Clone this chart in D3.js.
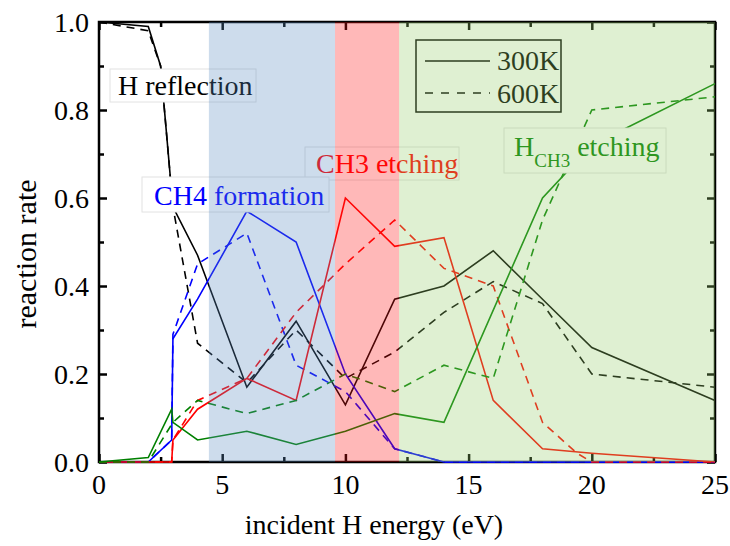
<!DOCTYPE html>
<html>
<head>
<meta charset="utf-8">
<script src="https://cdn.jsdelivr.net/npm/d3@7"></script>
<style>
  body { margin: 0; background: #fff; }
  text { font-family: "Liberation Serif", "Times New Roman", serif; }
</style>
</head>
<body>
<svg id="chartSvg" width="730" height="546"></svg>
<script>
// series as [energy, rate] pairs
const hRefl300 = [[0,1.0],[2,0.99],[2.5,0.9],[3,0.58],[4,0.47],[6,0.17],[8,0.32],[10,0.13],[12,0.37],[14,0.40],[16,0.48],[18,0.37],[20,0.26],[25,0.14]];
const hRefl600 = [[0,1.0],[2,0.98],[2.5,0.9],[3,0.58],[4,0.27],[6,0.18],[8,0.30],[10,0.19],[12,0.25],[14,0.34],[16,0.41],[18,0.36],[20,0.20],[25,0.17]];
const ch4300 = [[0,0],[2,0],[2.95,0.05],[3,0.28],[4,0.37],[6,0.57],[8,0.50],[10,0.20],[12,0.03],[14,0],[25,0]];
const ch4600 = [[0,0],[2,0],[2.95,0.05],[3,0.29],[4,0.45],[6,0.52],[8,0.22],[10,0.16],[12,0.03],[14,0],[25,0]];
const ch3300 = [[0,0],[2.95,0],[3,0.05],[4,0.12],[6,0.19],[8,0.14],[10,0.60],[12,0.49],[14,0.51],[16,0.14],[18,0.03],[20,0.02],[25,0]];
const ch3600 = [[0,0],[2.95,0],[3,0.05],[4,0.14],[6,0.19],[8,0.34],[10,0.45],[12,0.55],[14,0.44],[16,0.40],[18,0.09],[19.4,0.02],[20,0],[25,0]];
const hch3300 = [[0,0],[2,0.01],[2.95,0.12],[3,0.09],[4,0.05],[6,0.07],[8,0.04],[10,0.07],[12,0.11],[14,0.09],[18,0.60],[20,0.72],[25,0.86]];
const hch3600 = [[0,0],[2,0],[3,0.09],[4,0.14],[6,0.11],[8,0.14],[10,0.20],[12,0.16],[14,0.22],[16,0.19],[18,0.55],[20,0.80],[25,0.83]];

// shaded energy windows
const regions = [
    { x0: 4.46, x1: 9.58, color: "rgb(88,138,192)" },
    { x0: 9.58, x1: 12.18, color: "rgb(255,21,21)" },
    { x0: 12.18, x1: 25, color: "rgb(148,205,105)" }
];

const xTicks = [0, 5, 10, 15, 20, 25];
const yTicks = [0, 0.2, 0.4, 0.6, 0.8, 1.0];

const svg = d3.select("#chartSvg");
const plotL = 99, plotR = 715, plotT = 22, plotB = 462;

const x = d3.scaleLinear().domain([0, 25]).range([plotL, plotR]);
const y = d3.scaleLinear().domain([0, 1]).range([plotB, plotT]);

const line = d3.line().x(d => x(d[0])).y(d => y(d[1]));

// frame and inward ticks, mirrored on top and right
svg.append("rect").attr("x", plotL).attr("y", plotT).attr("width", plotR - plotL).attr("height", plotB - plotT)
    .attr("fill", "none").attr("stroke", "#000").attr("stroke-width", 2.5);

const tickW = 2.5;
function xAxis(sel, sign) {
    sel.call(d3.axisBottom(x).tickValues(d3.range(0, 25.01, 2.5)).tickSize(0).tickFormat(""));
    sel.select(".domain").remove();
    sel.selectAll(".tick line")
        .attr("y2", d => sign * (d % 5 === 0 ? 8 : 5))
        .attr("stroke", "#000").attr("stroke-width", tickW);
}
function yAxis(sel, sign) {
    sel.call(d3.axisLeft(y).tickValues(d3.range(0, 1.001, 0.1)).tickSize(0).tickFormat(""));
    sel.select(".domain").remove();
    sel.selectAll(".tick line")
        .attr("x2", (d, i) => sign * (i % 2 === 0 ? 8 : 5))
        .attr("stroke", "#000").attr("stroke-width", tickW);
}
svg.append("g").attr("transform", `translate(0,${plotB})`).call(xAxis, -1);
svg.append("g").attr("transform", `translate(0,${plotT})`).call(xAxis, 1);
svg.append("g").attr("transform", `translate(${plotL},0)`).call(yAxis, 1);
svg.append("g").attr("transform", `translate(${plotR},0)`).call(yAxis, -1);

const series = [
    { data: hRefl300, color: "#000", dash: null },
    { data: hRefl600, color: "#000", dash: "8,6" },
    { data: ch4300, color: "#0000ff", dash: null },
    { data: ch4600, color: "#0000ff", dash: "8,6" },
    { data: ch3300, color: "#ff0000", dash: null },
    { data: ch3600, color: "#ff0000", dash: "8,6" },
    { data: hch3300, color: "#008000", dash: null },
    { data: hch3600, color: "#008000", dash: "8,6" }
];

svg.selectAll("path.series")
    .data(series)
    .enter()
    .append("path")
    .attr("class", "series")
    .attr("d", d => line(d.data))
    .attr("fill", "none")
    .attr("stroke", d => d.color)
    .attr("stroke-width", 1.6)
    .attr("stroke-dasharray", d => d.dash);

// label boxes
function label(x0, y0, w, h) {
    return svg.append("rect")
        .attr("x", x0).attr("y", y0)
        .attr("width", w).attr("height", h)
        .attr("fill", "#fff")
        .attr("stroke", "#e2e2e2")
        .attr("stroke-width", 1);
}
label(110, 69, 146, 33);
svg.append("text").attr("x", 118).attr("y", 95).attr("font-size", 28).attr("fill", "#000").text("H reflection");

label(305, 147, 154, 33);
svg.append("text").attr("x", 316).attr("y", 173).attr("font-size", 28).attr("fill", "#ff0000").text("CH3 etching");

label(142, 177, 187, 35);
svg.append("text").attr("x", 154).attr("y", 205).attr("font-size", 28).attr("fill", "#0000ff").text("CH4 formation");

label(504, 128, 162, 45);
const hl = svg.append("text").attr("x", 514).attr("y", 156).attr("font-size", 28).attr("fill", "#008000");
hl.append("tspan").text("H");
hl.append("tspan").attr("dy", 11).attr("font-size", 19).text("CH3");
hl.append("tspan").attr("dy", -11).text(" etching");

// legend
const leg = svg.append("g");
leg.append("rect").attr("x", 416).attr("y", 40).attr("width", 145).attr("height", 72)
    .attr("fill", "none").attr("stroke", "#000").attr("stroke-width", 1.5);
leg.append("line").attr("x1", 425).attr("x2", 490).attr("y1", 61).attr("y2", 61)
    .attr("stroke", "#000").attr("stroke-width", 1.6);
leg.append("line").attr("x1", 425).attr("x2", 490).attr("y1", 93).attr("y2", 93)
    .attr("stroke", "#000").attr("stroke-width", 1.6).attr("stroke-dasharray", "8,8");
leg.append("text").attr("x", 497).attr("y", 70).attr("font-size", 28).text("300K");
leg.append("text").attr("x", 497).attr("y", 103).attr("font-size", 28).text("600K");

// translucent windows painted over everything in the frame
svg.selectAll("rect.region")
    .data(regions)
    .enter()
    .append("rect")
    .attr("class", "region")
    .attr("x", d => x(d.x0))
    .attr("y", y(1))
    .attr("width", d => x(d.x1) - x(d.x0))
    .attr("height", y(0) - y(1))
    .attr("fill", d => d.color)
    .attr("fill-opacity", 0.3);

// tick labels
svg.selectAll("text.xt")
    .data(xTicks)
    .enter()
    .append("text")
    .attr("class", "xt")
    .attr("x", d => x(d))
    .attr("y", 494)
    .attr("text-anchor", "middle")
    .attr("font-size", 28)
    .text(d => d);

svg.selectAll("text.yt")
    .data(yTicks)
    .enter()
    .append("text")
    .attr("class", "yt")
    .attr("x", 89)
    .attr("y", d => y(d) + 10)
    .attr("text-anchor", "end")
    .attr("font-size", 28)
    .text(d => d.toFixed(1));

svg.append("text")
    .attr("x", x(12.5) - 33)
    .attr("y", 534)
    .attr("text-anchor", "middle")
    .attr("font-size", 28)
    .text("incident H energy (eV)");

svg.append("text")
    .attr("transform", `translate(36,${254}) rotate(-90)`)
    .attr("text-anchor", "middle")
    .attr("font-size", 30)
    .text("reaction rate");
</script>
</body>
</html>
